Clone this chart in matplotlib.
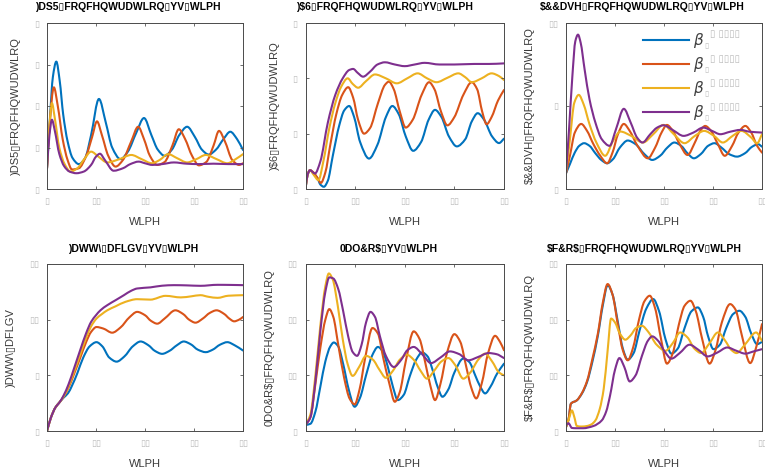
import numpy as np
import matplotlib
matplotlib.use("Agg")
import matplotlib.pyplot as plt
from matplotlib.path import Path
from matplotlib.patches import PathPatch
from matplotlib.lines import Line2D

plt.rcParams['font.family'] = ['Liberation Sans', 'DejaVu Sans']

COLORS = ['#0072BD', '#D95319', '#EDB120', '#7E2F8E']
BOX = '\u25af'

# ---------------- data ----------------
# Panel A : FapR
fapr_t1 = [0, 0.6, 1.2, 1.9, 2.6, 3.3, 4.2, 5.2, 6.5, 7.8, 9.0, 10.6, 12.0, 13.3, 15.0, 16.5, 18.2, 19.8, 21.3, 22.6, 24.0, 25.5, 27.0, 28.6, 30.2, 31.6, 33.0, 34.5, 36.0, 37.4, 38.8, 40]
fapr_y1 = [0.5, 1.7, 2.7, 3.07, 2.6, 1.8, 1.15, 0.75, 0.6, 0.75, 1.3, 2.17, 1.6, 1.0, 0.72, 0.9, 1.35, 1.71, 1.3, 0.95, 0.8, 0.95, 1.3, 1.5, 1.25, 0.95, 0.83, 0.95, 1.2, 1.38, 1.2, 0.94]
fapr_t2 = [0, 0.5, 1.4, 2.2, 3.2, 4.2, 5.1, 6.5, 8.0, 9.2, 10.2, 11.2, 12.5, 14.0, 15.5, 17.2, 18.6, 19.8, 21.0, 22.5, 24.0, 25.6, 26.9, 28.2, 29.6, 31.0, 32.5, 34.0, 35.1, 36.3, 37.8, 39.2, 40]
fapr_y2 = [0.5, 1.5, 2.45, 2.0, 1.2, 0.7, 0.47, 0.5, 0.8, 1.25, 1.63, 1.3, 0.8, 0.54, 0.7, 1.15, 1.5, 1.2, 0.8, 0.58, 0.65, 1.05, 1.44, 1.2, 0.8, 0.57, 0.65, 1.05, 1.4, 1.15, 0.7, 0.58, 0.62]
fapr_t3 = [0, 0.5, 1.0, 1.6, 2.5, 3.6, 4.8, 6.2, 7.6, 9.0, 10.5, 12.3, 14.8, 17.2, 19.3, 21.4, 23.0, 24.7, 26.6, 28.6, 30.5, 32.4, 34.6, 36.8, 38.5, 40]
fapr_y3 = [0.5, 1.5, 2.07, 1.7, 1.0, 0.6, 0.42, 0.5, 0.72, 0.9, 0.78, 0.64, 0.72, 0.82, 0.72, 0.62, 0.7, 0.84, 0.74, 0.64, 0.72, 0.82, 0.72, 0.62, 0.72, 0.84]
fapr_t4 = [0, 0.5, 1.0, 1.6, 2.5, 3.5, 4.6, 6.0, 7.5, 9.0, 10.0, 10.8, 11.8, 13.6, 15.5, 17.0, 18.7, 20.0, 21.5, 23.5, 25.9, 28.5, 31, 34, 37, 40]
fapr_y4 = [0.5, 1.3, 1.67, 1.4, 0.85, 0.55, 0.42, 0.38, 0.42, 0.58, 0.78, 0.85, 0.7, 0.44, 0.5, 0.6, 0.66, 0.62, 0.58, 0.6, 0.64, 0.61, 0.6, 0.61, 0.6, 0.6]

# Panel B : FAS
fas_t1 = [0, 0.4, 0.9, 1.6, 2.4, 3.0, 3.7, 4.5, 5.5, 6.8, 7.8, 8.8, 9.8, 11.0, 12.8, 14.5, 16.2, 17.5, 18.8, 20.2, 21.7, 23.3, 24.8, 26.1, 27.4, 28.9, 30.5, 32.2, 33.5, 34.7, 36.0, 37.6, 39.0, 40]
fas_y1 = [0, 0.25, 0.34, 0.28, 0.2, 0.08, 0.04, 0.15, 0.6, 1.15, 1.42, 1.5, 1.3, 0.85, 0.55, 0.8, 1.3, 1.5, 1.35, 0.95, 0.69, 0.85, 1.25, 1.43, 1.3, 0.95, 0.77, 0.9, 1.22, 1.37, 1.25, 0.95, 0.83, 0.91]
fas_t2 = [0, 0.4, 0.9, 1.6, 2.4, 3.1, 4.0, 5.0, 6.2, 7.4, 8.6, 9.6, 10.6, 11.8, 13.0, 14.6, 16.0, 16.8, 17.8, 19.0, 20.2, 21.6, 23.4, 24.9, 26.0, 27.3, 28.6, 30.0, 31.8, 33.5, 34.6, 35.6, 36.5, 37.5, 38.8, 40]
fas_y2 = [0, 0.25, 0.34, 0.3, 0.2, 0.11, 0.3, 0.8, 1.35, 1.7, 1.84, 1.65, 1.25, 1.0, 1.1, 1.55, 1.88, 1.94, 1.8, 1.4, 1.11, 1.25, 1.7, 1.93, 1.8, 1.4, 1.15, 1.3, 1.7, 1.93, 1.8, 1.4, 1.17, 1.3, 1.6, 1.79]
fas_t3 = [0, 0.4, 0.9, 1.7, 2.6, 3.6, 4.8, 6.0, 7.2, 8.5, 9.5, 10.6, 12.2, 14.0, 16.2, 18.4, 20.5, 22.6, 24.5, 26.4, 28.6, 30.8, 32.2, 33.5, 35.5, 37.5, 39.0, 40]
fas_y3 = [0, 0.25, 0.34, 0.25, 0.16, 0.5, 1.1, 1.55, 1.85, 2.0, 1.9, 1.83, 1.95, 2.07, 2.0, 1.91, 2.0, 2.09, 2.0, 1.93, 2.01, 2.09, 2.02, 1.93, 2.0, 2.09, 2.04, 1.97]
fas_t4 = [0, 0.4, 0.9, 1.9, 3.0, 4.5, 6.0, 7.5, 8.8, 9.6, 10.5, 11.6, 13.0, 14.5, 16.0, 18.0, 20.0, 22.0, 24.0, 27.0, 30.0, 34.0, 37.0, 40]
fas_y4 = [0, 0.25, 0.34, 0.28, 0.5, 1.2, 1.7, 2.0, 2.15, 2.17, 2.1, 2.03, 2.12, 2.25, 2.29, 2.25, 2.22, 2.25, 2.28, 2.25, 2.25, 2.26, 2.26, 2.27]

# Panel C : AccAse
acc_t1 = [0, 0.8, 1.8, 2.7, 3.7, 4.8, 6.0, 7.2, 8.4, 9.6, 11.0, 12.6, 14.2, 16.0, 17.6, 19.2, 20.7, 22.1, 23.5, 24.8, 26.1, 27.5, 29.0, 30.3, 31.7, 33.3, 34.9, 36.5, 38.0, 39.2, 40]
acc_y1 = [0.95, 1.5, 2.2, 2.6, 2.76, 2.6, 2.15, 1.75, 1.55, 1.8, 2.5, 2.92, 2.7, 2.1, 1.75, 2.0, 2.5, 2.8, 2.6, 2.15, 1.85, 2.1, 2.6, 2.76, 2.5, 2.1, 1.95, 2.15, 2.55, 2.7, 2.55]
acc_t2 = [0, 0.8, 1.8, 3.1, 4.3, 5.6, 7.0, 8.4, 9.5, 10.6, 11.8, 13.0, 14.6, 16.7, 18.2, 19.5, 20.6, 21.8, 23.2, 24.8, 26.3, 27.4, 28.4, 29.6, 31.0, 32.4, 33.9, 35.2, 36.6, 37.8, 39.0, 40]
acc_y2 = [0.95, 2.0, 3.4, 3.92, 3.5, 2.7, 2.0, 1.55, 2.2, 3.3, 3.92, 3.5, 2.6, 1.85, 2.5, 3.4, 3.86, 3.5, 2.7, 2.05, 2.8, 3.5, 3.8, 3.5, 2.7, 2.0, 2.6, 3.4, 3.8, 3.4, 2.6, 2.19]
acc_t3 = [0, 0.8, 1.7, 2.6, 3.6, 4.8, 6.2, 8.0, 9.6, 11.1, 13.3, 15.7, 17.8, 19.9, 22.0, 24.2, 26.3, 28.2, 30.2, 32.0, 34.0, 35.8, 37.8, 39.0, 40]
acc_y3 = [0.95, 3.0, 5.2, 5.67, 5.1, 3.9, 2.8, 2.0, 2.9, 3.46, 3.2, 2.8, 3.3, 3.86, 3.3, 2.76, 3.2, 3.5, 3.2, 2.8, 3.2, 3.5, 3.1, 2.75, 3.3]
acc_t4 = [0, 0.6, 1.3, 1.9, 2.45, 3.0, 3.8, 4.8, 6.0, 7.3, 8.9, 10.2, 11.8, 13.2, 14.5, 15.6, 17.2, 18.6, 19.9, 21.8, 24.0, 26.0, 28.0, 29.8, 31.5, 33.5, 35.6, 37.5, 40]
acc_y4 = [0.95, 3.5, 6.8, 8.9, 9.3, 8.8, 7.2, 5.4, 4.0, 3.0, 2.6, 3.6, 4.83, 4.0, 3.1, 2.8, 3.3, 3.7, 3.84, 3.55, 3.2, 3.4, 3.7, 3.5, 3.3, 3.45, 3.56, 3.45, 3.4]

# Panel D : Fatty acids
fa_t1 = [0, 0.8, 1.7, 2.6, 3.4, 4.3, 5.1, 6.2, 7.4, 8.7, 10.1, 11.3, 12.7, 14.2, 15.8, 17.5, 19.1, 20.7, 22.0, 23.5, 25.0, 26.5, 27.9, 29.3, 30.8, 32.4, 33.8, 35.3, 36.8, 38.3, 40]
fa_y1 = [0, 1.2, 2.1, 2.6, 3.0, 3.4, 4.07, 5.2, 6.6, 7.6, 7.98, 7.6, 6.6, 6.23, 6.7, 7.6, 8.04, 7.7, 7.2, 6.93, 7.2, 7.7, 8.04, 7.8, 7.3, 7.08, 7.3, 7.75, 7.98, 7.7, 7.23]
fa_t2 = [0, 0.8, 1.7, 2.6, 3.4, 4.4, 5.5, 6.8, 8.0, 9.0, 10.1, 11.5, 13.3, 15.0, 16.8, 18.4, 20.0, 21.2, 22.5, 24.0, 26.2, 27.8, 29.0, 30.3, 31.8, 33.2, 34.6, 36.2, 37.2, 38.2, 39.2, 40]
fa_y2 = [0, 1.2, 2.1, 2.6, 3.1, 3.9, 5.1, 6.6, 8.0, 8.9, 9.34, 9.2, 8.83, 9.3, 10.2, 10.7, 10.4, 9.9, 9.64, 10.1, 10.84, 10.5, 10.0, 9.73, 10.1, 10.6, 10.84, 10.5, 10.1, 9.85, 10.0, 10.24]
fa_t3 = [0, 0.8, 1.7, 2.6, 3.4, 4.4, 5.5, 6.8, 8.0, 9.0, 10.1, 11.2, 12.3, 14.0, 16.0, 18.4, 21.1, 24.2, 27.3, 29.5, 31.3, 33.0, 34.8, 37.0, 40]
fa_y3 = [0, 1.2, 2.1, 2.6, 3.1, 4.0, 5.3, 6.9, 8.4, 9.4, 10.1, 10.5, 10.84, 11.2, 11.6, 11.84, 11.8, 12.14, 12.0, 12.1, 12.2, 12.05, 11.96, 12.15, 12.2]
fa_t4 = [0, 0.8, 1.7, 2.6, 3.4, 4.4, 5.5, 6.8, 8.0, 9.0, 10.0, 10.9, 12.3, 14.0, 15.7, 17.2, 18.4, 21.1, 23.5, 25.9, 28.5, 31.3, 34.8, 37.5, 40]
fa_y4 = [0, 1.2, 2.1, 2.6, 3.2, 4.2, 5.6, 7.3, 8.8, 9.8, 10.4, 10.84, 11.3, 11.75, 12.2, 12.6, 12.8, 12.9, 13.05, 13.1, 13.08, 13.04, 13.13, 13.12, 13.1]

# Panel E : MalCoA
mal_t1 = [0, 1.0, 2.0, 3.0, 4.0, 5.0, 5.7, 6.6, 7.6, 8.7, 9.9, 11.0, 12.2, 13.4, 14.6, 15.6, 16.6, 17.6, 18.6, 19.8, 21.0, 22.3, 23.5, 24.6, 25.6, 26.6, 27.6, 28.8, 30.0, 31.8, 33.0, 34.2, 35.2, 36.2, 37.3, 38.6, 40]
mal_y1 = [1.07, 1.3, 3.5, 8, 12.5, 15.2, 15.9, 15.2, 12.0, 7.5, 4.36, 6, 10, 13.5, 15.1, 14.2, 11.5, 8, 5.55, 6.5, 9.8, 12.8, 14.1, 13.4, 11.0, 8.0, 6.15, 7.5, 10.5, 13.0, 12.4, 10.0, 8.0, 6.75, 8.0, 10.3, 12.1]
mal_t2 = [0, 1.0, 2.0, 3.0, 4.0, 4.8, 5.6, 6.6, 7.8, 8.9, 9.9, 10.9, 12.0, 13.5, 14.6, 15.7, 16.9, 18.0, 19.0, 20.2, 21.8, 23.0, 24.2, 25.2, 26.1, 27.2, 28.5, 30.0, 31.2, 32.4, 33.4, 34.4, 35.5, 36.8, 38.2, 39.2, 40]
mal_y2 = [1.07, 2.5, 8.5, 15, 20, 21.9, 20.5, 15.5, 9.5, 5.8, 4.78, 7.5, 13, 18.5, 17.5, 13, 8.5, 5.25, 7.0, 12.5, 17.9, 16.5, 12.0, 8.0, 5.55, 8.5, 14.0, 17.4, 16.0, 11.5, 7.8, 5.85, 8.5, 14.0, 17.1, 16.0, 14.5]
mal_t3 = [0, 1.0, 2.0, 3.0, 4.0, 4.7, 5.5, 6.5, 7.5, 8.5, 9.5, 10.8, 12.2, 13.6, 14.9, 16.2, 17.6, 19.0, 20.4, 21.8, 23.2, 24.5, 25.9, 27.4, 28.8, 30.2, 31.8, 33.2, 34.8, 36.2, 37.6, 39.0, 40]
mal_y3 = [1.07, 3, 10, 19, 26, 28.3, 27.2, 22.5, 16.5, 12, 9.9, 11.5, 13.5, 12.8, 11.0, 9.55, 10.8, 12.8, 13.7, 12.8, 10.8, 9.4, 10.8, 12.5, 13.1, 11.8, 9.4, 10.5, 12.8, 13.9, 12.5, 10.5, 10.0]
mal_t4 = [0, 1.0, 2.0, 3.0, 4.0, 4.8, 5.6, 6.6, 7.6, 8.6, 9.5, 10.4, 11.3, 12.2, 13.1, 14.0, 15.0, 16.2, 17.8, 19.3, 20.5, 21.8, 23.5, 25.3, 27.2, 29.1, 31.0, 32.8, 34.8, 36.9, 38.5, 40]
mal_y4 = [1.07, 2.5, 9, 18, 25, 27.6, 27.4, 25.5, 21.5, 17, 14.2, 13.5, 15.5, 19.5, 21.4, 20.5, 17, 13.5, 11.5, 12.8, 14.5, 15.1, 13.8, 12.2, 13.2, 14.3, 13.8, 12.7, 13.3, 14.0, 13.8, 13.1]

# Panel F : AcCoA
acoa_t1 = [0, 0.5, 1.0, 2.2, 3.3, 4.3, 5.4, 6.5, 7.5, 8.5, 9.5, 10.6, 11.6, 12.6, 13.8, 15.0, 16.4, 17.8, 19.0, 20.3, 21.5, 22.8, 24.2, 25.6, 26.9, 28.0, 29.0, 30.1, 31.4, 32.7, 34.1, 35.4, 36.6, 37.8, 39.0, 40]
acoa_y1 = [0.7, 2, 4.9, 5.5, 6.8, 8.8, 12.5, 17.1, 22.5, 26.2, 24.5, 19.5, 14.8, 12.8, 14.0, 18.0, 22.0, 23.7, 21.5, 16.5, 13.9, 14.8, 18.5, 21.5, 22.2, 20.5, 17.0, 14.7, 15.5, 18.5, 21.0, 21.6, 20.5, 17.5, 15.6, 16.0]
acoa_t2 = [0, 0.5, 1.0, 2.2, 3.3, 4.3, 5.4, 6.5, 7.5, 8.5, 9.5, 10.6, 11.6, 12.6, 13.7, 14.9, 16.0, 17.1, 18.2, 19.4, 20.6, 21.8, 23.0, 24.2, 25.4, 26.5, 27.8, 29.3, 30.5, 31.8, 33.5, 34.6, 35.8, 37.6, 38.8, 40]
acoa_y2 = [0.7, 2, 4.9, 5.5, 6.9, 9.0, 13.0, 17.5, 23.0, 26.4, 24.5, 19.0, 14.5, 12.7, 15.0, 20.0, 23.3, 24.3, 22.0, 16.5, 12.1, 14.0, 19.0, 22.5, 23.4, 21.5, 16.5, 12.1, 14.5, 19.5, 22.8, 21.8, 17.5, 12.2, 15.0, 19.2]
acoa_t3 = [0, 0.6, 1.2, 1.7, 2.2, 3.2, 4.3, 5.2, 6.0, 6.9, 7.7, 8.5, 9.2, 10.0, 11.0, 12.1, 13.2, 14.3, 15.5, 16.8, 18.5, 20.3, 21.8, 23.3, 24.8, 26.2, 27.6, 29.3, 31.0, 32.5, 33.7, 34.8, 36.5, 38.8, 40]
acoa_y3 = [0.7, 2.2, 3.7, 2.5, 0.9, 0.8, 0.9, 1.2, 1.9, 4.0, 7.6, 14.5, 20.2, 19.5, 17.5, 16.4, 17.2, 18.5, 18.9, 17.8, 15.5, 14.4, 15.8, 17.7, 16.8, 14.8, 14.0, 15.8, 17.7, 16.2, 14.6, 14.0, 15.5, 17.7, 16.2]
acoa_t4 = [0, 0.5, 1.2, 2.0, 3.5, 5.6, 7.3, 8.2, 9.0, 10.0, 10.9, 11.9, 13.0, 14.2, 15.5, 16.7, 17.6, 18.8, 20.2, 21.5, 23.2, 25.2, 27.0, 28.9, 30.9, 32.9, 34.8, 36.6, 38.3, 40]
acoa_y4 = [1.0, 1.4, 0.55, 0.5, 0.5, 0.9, 1.9, 3.5, 6.4, 11.0, 13.1, 11.5, 8.9, 10.0, 13.5, 16.2, 17.0, 16.2, 14.2, 13.0, 14.0, 15.5, 14.6, 13.4, 14.1, 15.0, 14.4, 13.9, 14.3, 14.7]

# ---------------- text ----------------
titles = [
    ")DS5" + BOX + "FRQFHQWUDWLRQ" + BOX + "YV" + BOX + "WLPH",
    ")$6" + BOX + "FRQFHQWUDWLRQ" + BOX + "YV" + BOX + "WLPH",
    "$&&DVH" + BOX + "FRQFHQWUDWLRQ" + BOX + "YV" + BOX + "WLPH",
    ")DWW\\" + BOX + "DFLGV" + BOX + "YV" + BOX + "WLPH",
    "0DO&R$" + BOX + "YV" + BOX + "WLPH",
    "$F&R$" + BOX + "FRQFHQWUDWLRQ" + BOX + "YV" + BOX + "WLPH",
]
ylabels = [
    ")DS5" + BOX + "FRQFHQWUDWLRQ",
    ")$6" + BOX + "FRQFHQWUDWLRQ",
    "$&&DVH" + BOX + "FRQFHQWUDWLRQ",
    ")DWW\\" + BOX + "DFLGV",
    "0DO&R$" + BOX + "FRQFHQWUDWLRQ",
    "$F&R$" + BOX + "FRQFHQWUDWLRQ",
]
xlabel = "WLPH"
xticks = [0, 10, 20, 30, 40]
xticklabels = [BOX, BOX * 2, BOX * 2, BOX * 2, BOX * 2]
ylims = [(0, 4), (0, 3), (0, 10), (0, 15), (0, 30), (0, 30)]
yticks = [[0, 1, 2, 3, 4], [0, 1, 2, 3], [0, 5, 10], [0, 5, 10, 15], [0, 10, 20, 30], [0, 10, 20, 30]]
yticklabels = [[BOX] * 5, [BOX] * 4, [BOX, BOX, BOX * 2], [BOX, BOX, BOX * 2, BOX * 2],
               [BOX, BOX * 2, BOX * 2, BOX * 2], [BOX, BOX * 2, BOX * 2, BOX * 2]]
legend_labels = [r'$\beta$'] * 4
legend_sub = BOX
legend_sup = BOX + ' ' + BOX * 4

series = [
    [(fapr_t1, fapr_y1), (fapr_t2, fapr_y2), (fapr_t3, fapr_y3), (fapr_t4, fapr_y4)],
    [(fas_t1, fas_y1), (fas_t2, fas_y2), (fas_t3, fas_y3), (fas_t4, fas_y4)],
    [(acc_t1, acc_y1), (acc_t2, acc_y2), (acc_t3, acc_y3), (acc_t4, acc_y4)],
    [(fa_t1, fa_y1), (fa_t2, fa_y2), (fa_t3, fa_y3), (fa_t4, fa_y4)],
    [(mal_t1, mal_y1), (mal_t2, mal_y2), (mal_t3, mal_y3), (mal_t4, mal_y4)],
    [(acoa_t1, acoa_y1), (acoa_t2, acoa_y2), (acoa_t3, acoa_y3), (acoa_t4, acoa_y4)],
]


def smooth_path(x, y):
    """Shape-preserving smooth line through the read points (cubic Bezier path)."""
    x = np.asarray(x, float)
    y = np.asarray(y, float)
    n = len(x)
    h = np.diff(x)
    d = np.diff(y) / h
    m = np.zeros(n)
    m[0], m[-1] = d[0], d[-1]
    for i in range(1, n - 1):
        if d[i - 1] * d[i] <= 0:
            m[i] = 0.0
        else:
            w1 = 2 * h[i] + h[i - 1]
            w2 = h[i] + 2 * h[i - 1]
            m[i] = (w1 + w2) / (w1 / d[i - 1] + w2 / d[i])
    verts = [(x[0], y[0])]
    codes = [Path.MOVETO]
    for i in range(n - 1):
        verts.append((x[i] + h[i] / 3, y[i] + m[i] * h[i] / 3))
        verts.append((x[i + 1] - h[i] / 3, y[i + 1] - m[i + 1] * h[i] / 3))
        verts.append((x[i + 1], y[i + 1]))
        codes += [Path.CURVE4] * 3
    return Path(verts, codes)


W, H = 765, 470
fig = plt.figure(figsize=(W / 100, H / 100), dpi=100)

lefts = [47, 305.5, 566]
widths = [196, 198.5, 196]
tops = [23, 264]
heights = [166, 167]
title_x = [0.41, 0.40, 0.39, 0.44, 0.42, 0.40]

TICK_COLOR = '#bdbdbd'
LABEL_COLOR = '#3a3a3a'
FRAME_COLOR = '#4a4a4a'

axes = []
for k in range(6):
    r, c = divmod(k, 3)
    ax = fig.add_axes([lefts[c] / W, 1 - (tops[r] + heights[r]) / H, widths[c] / W, heights[r] / H])
    axes.append(ax)
    for j, (t, y) in enumerate(series[k]):
        patch = PathPatch(smooth_path(t, y), fill=False, edgecolor=COLORS[j], lw=1.5,
                          capstyle='round', joinstyle='round')
        ax.add_patch(patch)
    ax.set_xlim(0, 40)
    ax.set_ylim(*ylims[k])
    ax.set_xticks(xticks)
    ax.set_xticklabels(xticklabels, color=TICK_COLOR, fontsize=6.5, family=['DejaVu Sans'])
    ax.set_yticks(yticks[k])
    ax.set_yticklabels(yticklabels[k], color=TICK_COLOR, fontsize=6.5, family=['DejaVu Sans'])
    ax.tick_params(direction='in', length=2.5, width=0.6, color='#555555', top=True, right=True,
                   pad=6)
    for s in ax.spines.values():
        s.set_color(FRAME_COLOR)
        s.set_linewidth(0.7)
    ax.set_title(titles[k], fontsize=7.5, fontweight='bold', pad=9, x=title_x[k],
                 parse_math=False, family=['Liberation Sans', 'DejaVu Sans'])
    ax.set_xlabel(xlabel, fontsize=8, color=LABEL_COLOR, labelpad=8, parse_math=False)
    ax.set_ylabel(ylabels[k], fontsize=8, color=LABEL_COLOR, labelpad=9, parse_math=False)

# legend on the AccAse panel
ax = axes[2]
handles = [Line2D([], [], color=COLORS[j], lw=1.5) for j in range(4)]
leg = ax.legend(handles, legend_labels, loc='upper left', bbox_to_anchor=(0.393, 0.952),
                frameon=False, fontsize=11, handlelength=3.0, handletextpad=0.25,
                labelspacing=0.33, borderpad=0, borderaxespad=0)
for txt in leg.get_texts():
    txt.set_color('#404040')

fig.canvas.draw()
inv = fig.transFigure.inverted()
for txt in leg.get_texts():
    bb = txt.get_window_extent()
    cy = 0.5 * (bb.y0 + bb.y1)
    sub = inv.transform((bb.x1 + 0.5, cy - 5))
    sup = inv.transform((bb.x1 + 6, cy + 6))
    fig.text(sub[0], sub[1], legend_sub, fontsize=5.5, color=TICK_COLOR, va='center',
             family=['DejaVu Sans'])
    fig.text(sup[0], sup[1], legend_sup, fontsize=7, color=TICK_COLOR, va='center',
             family=['DejaVu Sans'])

fig.savefig('out.png', dpi=100)
